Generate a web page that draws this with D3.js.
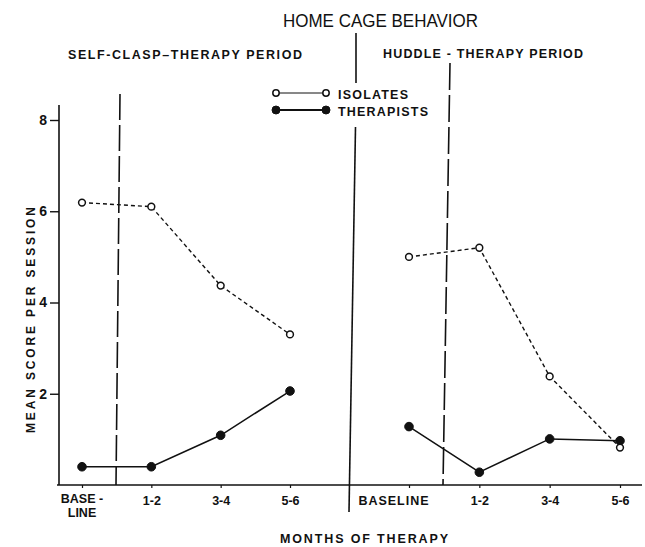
<!DOCTYPE html>
<html>
<head>
<meta charset="utf-8">
<script src="https://cdn.jsdelivr.net/npm/d3@7"></script>
<style>
  body { margin: 0; background: #fff; }
  svg text { font-family: "Liberation Sans", "DejaVu Sans", sans-serif; fill: #111; }
</style>
</head>
<body>
<div id="chart"></div>
<script>
const months = ["BASELINE", "1-2", "3-4", "5-6"]
const isolatesClasp = [6.19, 6.10, 4.37, 3.30]
const therapistsClasp = [0.40, 0.40, 1.09, 2.06]
const isolatesHuddle = [5.00, 5.20, 2.38, 0.82]
const therapistsHuddle = [1.28, 0.28, 1.01, 0.97]
const yTicks = [2, 4, 6, 8]

const width = 645, height = 547
const ink = "#111"

const svg = d3.select("#chart").append("svg")
  .attr("width", width)
  .attr("height", height)

const y = d3.scaleLinear().domain([0, 8]).range([485, 120])
const xClasp = d3.scalePoint().domain(months).range([82, 290])
const xHuddle = d3.scalePoint().domain(months).range([409, 620])

const AddText = (parent, x, yy, str, size, len, opts = {}) => {
  const t = parent.append("text")
    .attr("x", x)
    .attr("y", yy)
    .attr("font-size", size)
    .attr("font-weight", opts.weight || "bold")
    .attr("text-anchor", opts.anchor || "start")
    .text(str)
  if (len) t.attr("textLength", len).attr("lengthAdjust", opts.adjust || "spacing")
  return t
}

// titles
AddText(svg, 283, 27, "HOME CAGE BEHAVIOR", 18, 195, { weight: "normal", adjust: "spacingAndGlyphs" })
AddText(svg, 68, 59, "SELF-CLASP\u2013THERAPY PERIOD", 12.5, 234)
AddText(svg, 383, 58, "HUDDLE - THERAPY PERIOD", 12.5, 200)

// y axis
svg.append("line")
  .attr("x1", 59).attr("x2", 59)
  .attr("y1", y(0)).attr("y2", y(8.33))
  .attr("stroke", ink).attr("stroke-width", 1.6)

const yAxis = svg.append("g")
  .attr("transform", "translate(59,0)")
  .call(d3.axisLeft(y).tickValues(yTicks).tickSize(9).tickPadding(3))
yAxis.select(".domain").remove()
yAxis.selectAll("line").attr("stroke", ink).attr("stroke-width", 1.4)
yAxis.selectAll("text")
  .attr("font-size", 14).attr("font-weight", "bold")
  .attr("font-family", "Liberation Sans, sans-serif").attr("fill", ink)

svg.append("text")
  .attr("transform", "translate(35,320) rotate(-90)")
  .attr("text-anchor", "middle")
  .attr("font-size", 12)
  .attr("font-weight", "bold")
  .attr("textLength", 226)
  .attr("lengthAdjust", "spacing")
  .text("MEAN SCORE PER SESSION")

// x axis baseline
svg.append("line")
  .attr("x1", 57).attr("x2", 642)
  .attr("y1", y(0)).attr("y2", y(0))
  .attr("stroke", ink).attr("stroke-width", 1.6)

const DrawXAxis = (scale, labelFn) => {
  const g = svg.append("g")
    .attr("transform", "translate(0," + y(0) + ")")
    .call(d3.axisBottom(scale).tickSize(3).tickPadding(8).tickFormat(labelFn))
  g.select(".domain").remove()
  g.selectAll("line").attr("stroke", ink).attr("stroke-width", 1.2)
  g.selectAll("text")
    .attr("font-size", 12.5).attr("font-weight", "bold")
    .attr("font-family", "Liberation Sans, sans-serif").attr("fill", ink)
  return g
}

const gClasp = DrawXAxis(xClasp, d => d === "BASELINE" ? "" : d)
gClasp.append("text")
  .attr("x", xClasp("BASELINE")).attr("y", 18)
  .attr("text-anchor", "middle").attr("font-size", 12.5).attr("font-weight", "bold")
  .attr("fill", ink).attr("font-family", "Liberation Sans, sans-serif")
  .selectAll("tspan").data(["BASE -", "LINE"]).join("tspan")
  .attr("x", xClasp("BASELINE")).attr("dy", (d, i) => i ? 14 : 0)
  .text(d => d)

const gHuddle = DrawXAxis(xHuddle, d => d)
gHuddle.selectAll(".tick").filter(d => d === "BASELINE").select("text")
  .attr("dx", -16).attr("textLength", 70).attr("lengthAdjust", "spacing")

AddText(svg, 280, 543, "MONTHS OF THERAPY", 12.5, 168)

// divider between periods
svg.append("line")
  .attr("x1", 356).attr("x2", 356).attr("y1", 33).attr("y2", 83)
  .attr("stroke", ink).attr("stroke-width", 1.6)
svg.append("line")
  .attr("x1", 355.5).attr("x2", 349).attr("y1", 127).attr("y2", 512)
  .attr("stroke", ink).attr("stroke-width", 1.6)

// therapy start markers
svg.append("line")
  .attr("x1", 120).attr("x2", 116).attr("y1", 94).attr("y2", y(0))
  .attr("stroke", ink).attr("stroke-width", 1.6).attr("stroke-dasharray", "26,5")
svg.append("line")
  .attr("x1", 450).attr("x2", 443).attr("y1", 63).attr("y2", y(0))
  .attr("stroke", ink).attr("stroke-width", 1.6).attr("stroke-dasharray", "27,5")

const DrawSeries = (scale, values, open) => {
  const pts = values.map((v, i) => [scale(months[i]), y(v)])
  svg.append("path")
    .attr("d", d3.line()(pts))
    .attr("fill", "none")
    .attr("stroke", ink)
    .attr("stroke-width", open ? 1.4 : 1.5)
    .attr("stroke-dasharray", open ? "4,3" : null)
  svg.append("g").selectAll("circle").data(pts).join("circle")
    .attr("cx", d => d[0]).attr("cy", d => d[1])
    .attr("r", open ? 3.4 : 4.3)
    .attr("fill", open ? "#fff" : ink)
    .attr("stroke", ink)
    .attr("stroke-width", open ? 1.5 : 1)
}

DrawSeries(xClasp, isolatesClasp, true)
DrawSeries(xClasp, therapistsClasp, false)
DrawSeries(xHuddle, therapistsHuddle, false)
DrawSeries(xHuddle, isolatesHuddle, true)

// legend
const legend = [
  { name: "ISOLATES", open: true, y: 93, len: 70 },
  { name: "THERAPISTS", open: false, y: 110, len: 90 }
]
legend.forEach(l => {
  svg.append("line")
    .attr("x1", 276).attr("x2", 326).attr("y1", l.y).attr("y2", l.y)
    .attr("stroke", ink).attr("stroke-width", l.open ? 1 : 1.8)
  svg.selectAll(null).data([276, 326]).join("circle")
    .attr("cx", d => d).attr("cy", l.y)
    .attr("r", l.open ? 3.2 : 4)
    .attr("fill", l.open ? "#fff" : ink)
    .attr("stroke", ink).attr("stroke-width", l.open ? 1.5 : 1)
  AddText(svg, 338, l.y + 6, l.name, 12.5, l.len)
})
</script>
</body>
</html>
